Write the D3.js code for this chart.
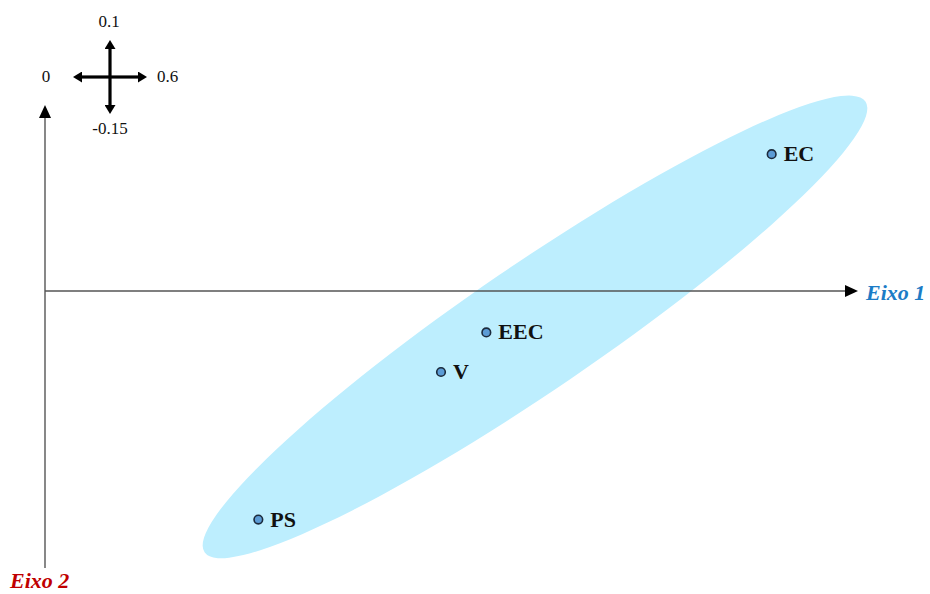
<!DOCTYPE html>
<html>
<head>
<meta charset="utf-8">
<script src="https://cdn.jsdelivr.net/npm/d3@7"></script>
<style>
  html, body { margin: 0; padding: 0; background: #fff; }
  svg { display: block; font-family: "Liberation Serif", "Times New Roman", serif; }
</style>
</head>
<body>
<svg id="chart" width="930" height="594"></svg>
<script>
// Correspondence map: category coordinates on the first two axes
const categories = ["EC", "EEC", "V", "PS"];
const axis1 = [0.545, 0.331, 0.297, 0.160];
const axis2 = [0.076, -0.023, -0.045, -0.127];

// Axis ranges shown in the compass legend
const xRange = [0, 0.6];
const yRange = [-0.15, 0.1];
const compassLabels = { left: "0", right: "0.6", top: "0.1", bottom: "-0.15" };
const axisNames = ["Eixo 1", "Eixo 2"];

const svg = d3.select("#chart");

const x = d3.scaleLinear().domain(xRange).range([45, 845]);
const y = d3.scaleLinear().domain(yRange).range([561, 111]);

const defs = svg.append("defs");
function marker(id, w, h, color) {
  defs.append("marker")
    .attr("id", id)
    .attr("viewBox", `0 0 ${w} ${h}`)
    .attr("refX", 0).attr("refY", h / 2)
    .attr("markerWidth", w).attr("markerHeight", h)
    .attr("markerUnits", "userSpaceOnUse")
    .attr("orient", "auto")
    .append("path")
    .attr("d", `M0,0L${w},${h / 2}L0,${h}Z`)
    .attr("fill", color);
}
marker("axisArrow", 13, 12, "#000");
marker("compassArrow", 9, 11, "#000");

// Group ellipse enclosing the categories
const pts = categories.map((c, i) => ({ name: c, px: x(axis1[i]), py: y(axis2[i]) }));
const cx = (d3.min(pts, d => d.px) + d3.max(pts, d => d.px)) / 2 + 20;
const cy = (d3.min(pts, d => d.py) + d3.max(pts, d => d.py)) / 2 - 10;
svg.append("ellipse")
  .attr("cx", 0).attr("cy", 0)
  .attr("rx", 400).attr("ry", 63)
  .attr("transform", `translate(${cx},${cy}) rotate(-34.3)`)
  .attr("fill", "#bdeefe");

// Axes
const axisColor = "#555";
svg.append("line")
  .attr("x1", x(0)).attr("y1", y(0))
  .attr("x2", x(xRange[1])).attr("y2", y(0))
  .attr("stroke", axisColor).attr("stroke-width", 1.4)
  .attr("marker-end", "url(#axisArrow)");
svg.append("line")
  .attr("x1", x(0)).attr("y1", y(yRange[0]) + 7)
  .attr("x2", x(0)).attr("y2", y(yRange[1]) + 7)
  .attr("stroke", axisColor).attr("stroke-width", 1.4)
  .attr("marker-end", "url(#axisArrow)");

svg.append("text")
  .attr("x", 866).attr("y", 300)
  .attr("font-size", 22).attr("font-weight", "bold").attr("font-style", "italic")
  .attr("fill", "#1c7cc6")
  .text(axisNames[0]);
svg.append("text")
  .attr("x", 10).attr("y", 588)
  .attr("font-size", 22).attr("font-weight", "bold").attr("font-style", "italic")
  .attr("fill", "#c00000")
  .text(axisNames[1]);

// Points and labels
const g = svg.append("g");
g.selectAll("circle").data(pts).join("circle")
  .attr("cx", d => d.px).attr("cy", d => d.py)
  .attr("r", 4.3)
  .attr("fill", "#5b9bd5")
  .attr("stroke", "#1b2a3c").attr("stroke-width", 1.6);
g.selectAll("text").data(pts).join("text")
  .attr("x", d => d.px + 12).attr("y", d => d.py + 7)
  .attr("font-size", 22).attr("font-weight", "bold")
  .attr("fill", "#111")
  .text(d => d.name);

// Compass legend
const comp = svg.append("g").attr("transform", "translate(110,77)");
const armH = 28, armV = 28;
[[-1, 0], [1, 0], [0, -1], [0, 1]].forEach(([dx, dy]) => {
  comp.append("line")
    .attr("x1", 0).attr("y1", 0)
    .attr("x2", dx * armH).attr("y2", dy * armV)
    .attr("stroke", "#000").attr("stroke-width", 3.2)
    .attr("marker-end", "url(#compassArrow)");
});
const lab = (tx, ty, anchor, t) => comp.append("text")
  .attr("x", tx).attr("y", ty)
  .attr("text-anchor", anchor)
  .attr("font-size", 17).attr("fill", "#111")
  .text(t);
lab(-1, -50, "middle", compassLabels.top);
lab(0, 57, "middle", compassLabels.bottom);
lab(-64, 5, "middle", compassLabels.left);
lab(47, 5, "start", compassLabels.right);
</script>
</body>
</html>
